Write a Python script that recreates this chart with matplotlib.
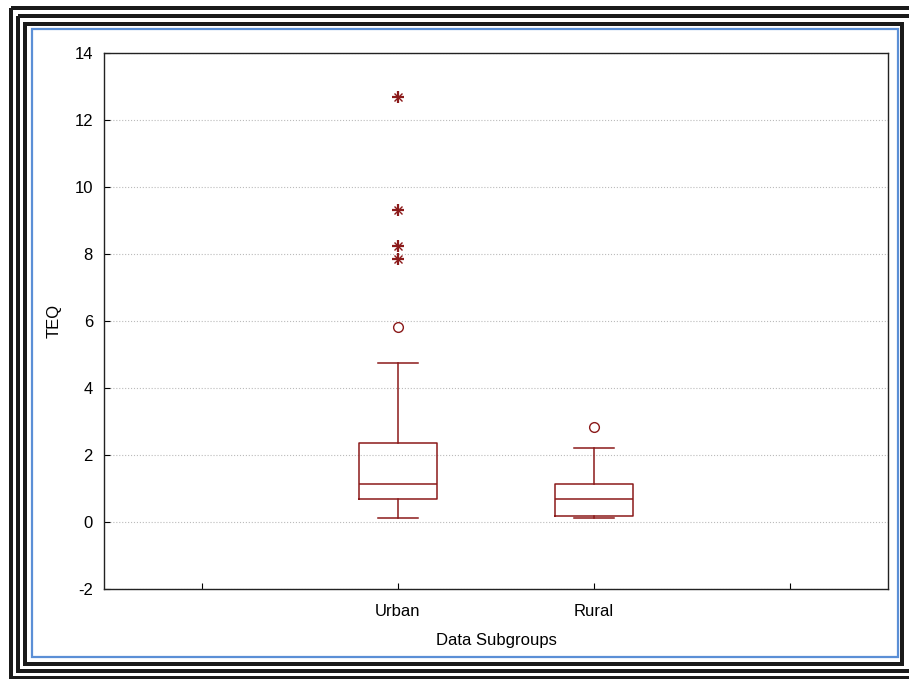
import matplotlib
matplotlib.use("Agg")
import matplotlib.pyplot as plt
from matplotlib.patches import Rectangle

plt.rcParams['font.family'] = ['Liberation Sans', 'DejaVu Sans']
plt.rcParams['axes.unicode_minus'] = False

# Box plot summary
groups = ['Urban', 'Rural']
q1 = [0.69, 0.19]
median = [1.13, 0.69]
q3 = [2.37, 1.13]
whisker_low = [0.12, 0.12]
whisker_high = [4.75, 2.21]
outliers = [[5.82], [2.84]]        # drawn as open circles
extremes = [[7.85, 8.24, 9.31, 12.69], []]  # drawn as asterisks

positions = [1.5, 2.5]
red = '#8B1A1A'

fig = plt.figure(figsize=(9.09, 6.79), dpi=100)
ax = fig.add_axes([0.1144, 0.1325, 0.8625, 0.7895])

stats = []
for i, g in enumerate(groups):
    stats.append(dict(label=g, q1=q1[i], med=median[i], q3=q3[i],
                      whislo=whisker_low[i], whishi=whisker_high[i], fliers=[]))

lp = dict(color=red, linewidth=1.1)
ax.bxp(stats, positions=positions, widths=0.4, showfliers=False,
       boxprops=lp, medianprops=lp, whiskerprops=lp, capprops=lp,
       capwidths=0.2, manage_ticks=False)

for p, vals in zip(positions, outliers):
    if vals:
        ax.plot([p] * len(vals), vals, 'o', mfc='none', mec=red, ms=7, mew=1.0)
for p, vals in zip(positions, extremes):
    if vals:
        ax.plot([p] * len(vals), vals, '+', color=red, ms=8, mew=1.6)
        ax.plot([p] * len(vals), vals, 'x', color=red, ms=6, mew=1.0)

ax.set_xlim(0, 4)
ax.set_ylim(-2, 14)
ax.set_yticks(range(-2, 15, 2))
ax.set_xticks([0.5, 1.5, 2.5, 3.5])
ax.set_xticklabels(['', 'Urban', 'Rural', ''])
ax.tick_params(direction='in', length=4, labelsize=12)
ax.tick_params(axis='y', pad=8)
ax.tick_params(axis='x', pad=11)
ax.grid(True, axis='y', linestyle=':', color='#bbbbbb', linewidth=0.8)
ax.set_axisbelow(True)
for s in ax.spines.values():
    s.set_linewidth(1.0)
    s.set_color('#222222')
ax.set_ylabel('TEQ', fontsize=12, labelpad=9)
ax.set_xlabel('Data Subgroups', fontsize=12, labelpad=10)

# decorative frame in pixel coordinates
frame = fig.add_axes([0, 0, 1, 1], zorder=-1)
frame.set_xlim(0, 909)
frame.set_ylim(679, 0)
frame.axis('off')
lw = 4 * 0.72
for x0, y0, x1, y1 in [(11, 7.5, 915, 678), (18, 15.5, 912, 670.5), (25, 23.5, 902, 664)]:
    frame.add_patch(Rectangle((x0, y0), x1 - x0, y1 - y0, fill=False,
                              edgecolor='#1a1a1a', linewidth=lw))
frame.add_patch(Rectangle((32, 29), 866, 628, fill=False,
                          edgecolor='#5b8fd6', linewidth=1.6))

fig.savefig('out.png', dpi=100)
